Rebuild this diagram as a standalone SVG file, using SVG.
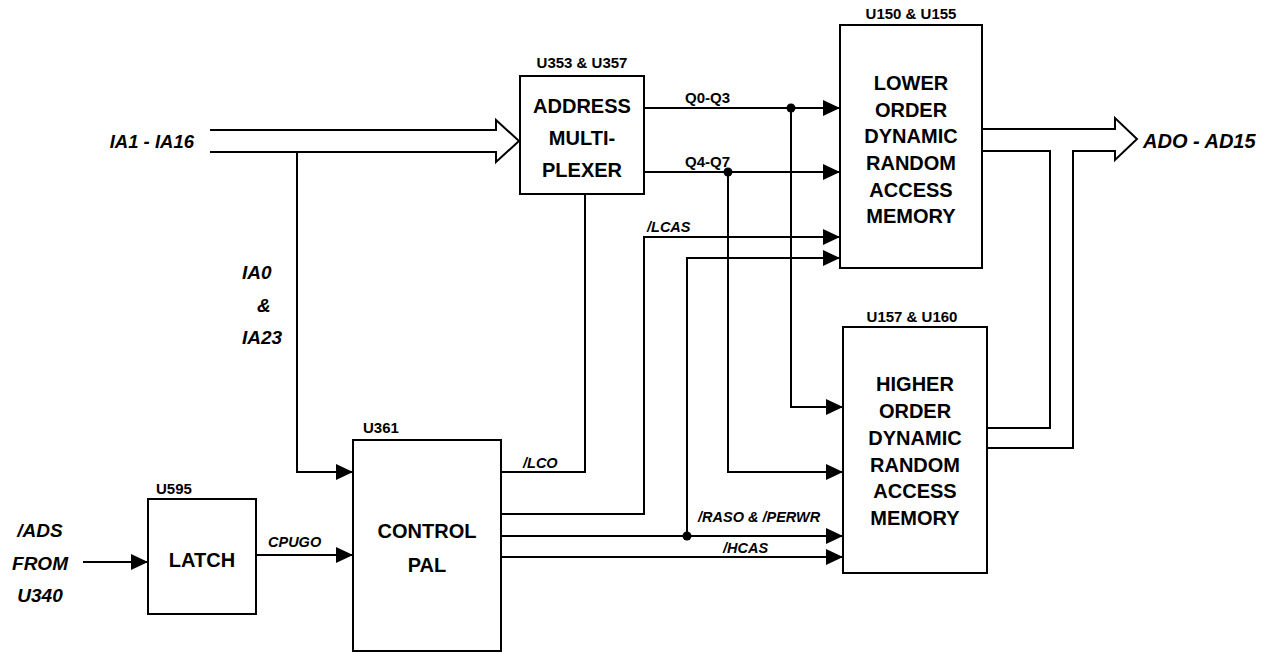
<svg xmlns="http://www.w3.org/2000/svg" width="1268" height="653" viewBox="0 0 1268 653">
<defs>
<marker id="ah" markerWidth="17" markerHeight="16" refX="17" refY="8" orient="auto" markerUnits="userSpaceOnUse">
<path d="M0,0 L17,8 L0,16 z" fill="#000"/>
</marker>
<style>
.box{fill:#fff;stroke:#000;stroke-width:2}
.ln{fill:none;stroke:#000;stroke-width:2}
.big{font-family:"Liberation Sans",Arial,sans-serif;font-weight:bold;font-size:20px;text-anchor:middle;fill:#000}
.ref{font-family:"Liberation Sans",Arial,sans-serif;font-weight:bold;font-size:15px;fill:#000}
.sig{font-family:"Liberation Sans",Arial,sans-serif;font-weight:bold;font-style:italic;font-size:14.5px;fill:#000}
.q{font-family:"Liberation Sans",Arial,sans-serif;font-weight:bold;font-size:15px;fill:#000}
.ext{font-family:"Liberation Sans",Arial,sans-serif;font-weight:bold;font-style:italic;font-size:19px;fill:#000}
</style>
</defs>
<rect width="1268" height="653" fill="#fff"/>

<g id="connectors">
<path class="ln" d="M210,130 H496 V120 L519,141 L496,162 V152 H210"/>
<path class="ln" d="M297,152 V472 H353" marker-end="url(#ah)"/>
<path class="ln" d="M83,562 H148" marker-end="url(#ah)"/>
<path class="ln" d="M256,555 H353" marker-end="url(#ah)"/>
<path class="ln" d="M501,472 H585 V194"/>
<path class="ln" d="M501,514 H644 V237 H840" marker-end="url(#ah)"/>
<path class="ln" d="M501,536 H843" marker-end="url(#ah)"/>
<path class="ln" d="M687,536 V258 H840" marker-end="url(#ah)"/>
<path class="ln" d="M501,557 H843" marker-end="url(#ah)"/>
<path class="ln" d="M644,108 H840" marker-end="url(#ah)"/>
<path class="ln" d="M791,108 V407 H843" marker-end="url(#ah)"/>
<path class="ln" d="M644,172 H840" marker-end="url(#ah)"/>
<path class="ln" d="M728,172 V472 H843" marker-end="url(#ah)"/>
<circle cx="791" cy="108" r="4.5" fill="#000"/>
<circle cx="728" cy="172" r="4.5" fill="#000"/>
<circle cx="687" cy="536" r="4.5" fill="#000"/>
<path class="ln" d="M982,129 H1115 V118 L1137,139 L1115,160 V151 H1073 V448 H987"/>
<path class="ln" d="M982,151 H1050 V428 H987"/>
<text class="q" x="685" y="103">Q0-Q3</text>
<text class="q" x="685" y="167">Q4-Q7</text>
<text class="sig" x="647" y="232">/LCAS</text>
<text class="sig" x="523" y="468">/LCO</text>
<text class="sig" x="698" y="522">/RASO &amp; /PERWR</text>
<text class="sig" x="723" y="553">/HCAS</text>
<text class="sig" x="268" y="547">CPUGO</text>
<text class="ext" x="194" y="148" text-anchor="end" style="font-size:18.5px">IA1 - IA16</text>
<text class="ext" x="1143" y="148" style="font-size:20px">ADO - AD15</text>
<text class="ext" x="242" y="279">IA0</text>
<text class="ext" x="257" y="312">&amp;</text>
<text class="ext" x="242" y="344">IA23</text>
</g>

<g id="ads-input">
<text class="ext" x="40" y="537" text-anchor="middle">/ADS</text>
<text class="ext" x="40" y="570" text-anchor="middle">FROM</text>
<text class="ext" x="40" y="602" text-anchor="middle">U340</text>
</g>

<g id="address-mux">
<rect class="box" x="520" y="76" width="124" height="118"/>
<text class="ref" x="582" y="68" text-anchor="middle">U353 &amp; U357</text>
<text class="big" x="582" y="113">ADDRESS</text>
<text class="big" x="582" y="145">MULTI-</text>
<text class="big" x="582" y="177">PLEXER</text>
</g>

<g id="lower-dram">
<rect class="box" x="840" y="25" width="142" height="243"/>
<text class="ref" x="911" y="19" text-anchor="middle">U150 &amp; U155</text>
<text class="big" x="911" y="90">LOWER</text>
<text class="big" x="911" y="117">ORDER</text>
<text class="big" x="911" y="143">DYNAMIC</text>
<text class="big" x="911" y="170">RANDOM</text>
<text class="big" x="911" y="197">ACCESS</text>
<text class="big" x="911" y="223">MEMORY</text>
</g>

<g id="higher-dram">
<rect class="box" x="843" y="327" width="144" height="246"/>
<text class="ref" x="912" y="322" text-anchor="middle">U157 &amp; U160</text>
<text class="big" x="915" y="391">HIGHER</text>
<text class="big" x="915" y="418">ORDER</text>
<text class="big" x="915" y="445">DYNAMIC</text>
<text class="big" x="915" y="472">RANDOM</text>
<text class="big" x="915" y="498">ACCESS</text>
<text class="big" x="915" y="525">MEMORY</text>
</g>

<g id="control-pal">
<rect class="box" x="353" y="440" width="148" height="211"/>
<text class="ref" x="363" y="433">U361</text>
<text class="big" x="427" y="538">CONTROL</text>
<text class="big" x="427" y="572">PAL</text>
</g>

<g id="latch">
<rect class="box" x="148" y="499" width="108" height="115"/>
<text class="ref" x="156" y="494">U595</text>
<text class="big" x="202" y="567">LATCH</text>
</g>
</svg>
